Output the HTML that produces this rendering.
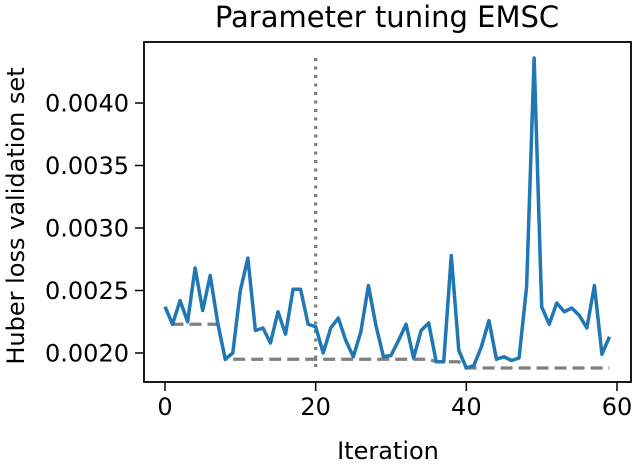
<!DOCTYPE html>
<html><head><meta charset="utf-8"><style>
body{margin:0;background:#fff;}
svg text{font-family:"DejaVu Sans","Liberation Sans",sans-serif;fill:#000;}
</style></head><body>
<svg width="634" height="464" viewBox="0 0 634 464">
<g id="plot"></g>
</svg>
<script>
const iterations = Array.from({length:60},(_, i)=>i);
const loss = [0.00237,0.00223,0.00242,0.00225,0.00268,0.00234,0.00262,0.00224,0.00195,0.0020,
0.0025,0.00276,0.00218,0.0022,0.00208,0.00233,0.00215,0.00251,0.00251,0.00223,
0.00221,0.0020,0.0022,0.00228,0.0021,0.00197,0.00217,0.00254,0.00222,0.00197,
0.00198,0.0021,0.00223,0.00196,0.00218,0.00224,0.00193,0.00193,0.00278,0.00202,
0.00188,0.0019,0.00205,0.00226,0.00195,0.00197,0.00194,0.00196,0.00253,0.00436,
0.00237,0.00223,0.0024,0.00233,0.00236,0.0023,0.0022,0.00254,0.00199,0.00213];
const xTicks = [0,20,40,60];
const yTicks = [0.0020,0.0025,0.0030,0.0035,0.0040];
const yTickLabels = ["0.0020","0.0025","0.0030","0.0035","0.0040"];
const splitIter = 20;

const L=144,R=631,T=42,B=382;
const X=v=>165+(v-0)*(617-165)/60;
const Y=v=>353-(v-0.0020)*(62.5/0.0005);
const NS="http://www.w3.org/2000/svg";
const g=document.getElementById('plot');
function mk(tag,attrs){const e=document.createElementNS(NS,tag);for(const k in attrs)e.setAttribute(k,attrs[k]);g.appendChild(e);return e;}

const best=[];let m=Infinity;loss.forEach(v=>{m=Math.min(m,v);best.push(m);});
const lo=Math.min(...loss),hi=Math.max(...loss);
let e=mk('line',{x1:X(splitIter),x2:X(splitIter),y1:Y(hi),y2:Y(lo),stroke:'#808080','stroke-width':3.3,'stroke-dasharray':'3,5.5'});


e=mk('polyline',{points:best.map((v,i)=>X(iterations[i])+','+Y(v)).join(' '),fill:'none',stroke:'#808080','stroke-width':3.3,'stroke-dasharray':'12,6'});


e=mk('polyline',{points:loss.map((v,i)=>X(iterations[i])+','+Y(v)).join(' '),fill:'none',stroke:'#1f77b4','stroke-width':3.5,'stroke-linejoin':'round'});


e=mk('rect',{x:L,y:T,width:R-L,height:B-T,fill:'none',stroke:'#000','stroke-width':1.8});


xTicks.forEach(t=>{
  mk('line',{x1:X(t),x2:X(t),y1:B,y2:B+9,stroke:'#000','stroke-width':1.5});
  const tx=mk('text',{x:X(t),y:B+33,'text-anchor':'middle','font-size':24});tx.textContent=t;
  
  
});
yTicks.forEach((t,i)=>{
  mk('line',{x1:L-9,x2:L,y1:Y(t),y2:Y(t),stroke:'#000','stroke-width':1.5});
  const tx=mk('text',{x:L-15,y:Y(t)+8.5,'text-anchor':'end','font-size':24});tx.textContent=yTickLabels[i];
  
  
});
let t=mk('text',{x:388,y:459,'text-anchor':'middle','font-size':24});t.textContent='Iteration';


t=mk('text',{x:0,y:0,'text-anchor':'middle','font-size':24,transform:`translate(24,${(T+B)/2+4}) rotate(-90)`});t.textContent='Huber loss validation set';


t=mk('text',{x:387,y:27,'text-anchor':'middle','font-size':29});t.textContent='Parameter tuning EMSC';


</script>
</body></html>
